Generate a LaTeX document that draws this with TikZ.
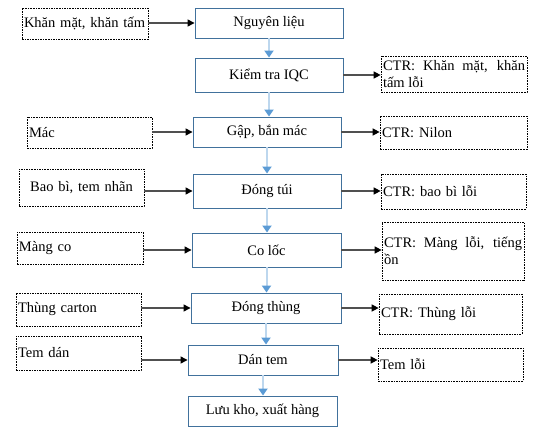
\documentclass[tikz,border=0pt]{standalone}
\usepackage{fontspec}
\setmainfont{Liberation Serif}
\usetikzlibrary{arrows.meta}

\definecolor{stepblue}{RGB}{65,113,156}
\definecolor{flowblue}{RGB}{91,155,213}
\definecolor{flowlight}{RGB}{189,215,238}
\definecolor{sidegray}{RGB}{80,80,80}

\tikzset{
  every node/.style={font=\fontsize{14.5}{17}\selectfont},
  stepbox/.style={draw=stepblue, line width=0.9pt, minimum width=148, minimum height=30, inner sep=0pt},
  sidebox/.style={draw, line width=0.7pt, dash pattern=on 1.6pt off 1pt, inner sep=2pt, align=left},
  flowarrow/.style={draw=flowlight, line width=2pt, -{Triangle[length=7pt, width=9pt, color=flowblue]}},
  sidearrow/.style={draw=sidegray, line width=1.3pt, -{Triangle[length=7pt, width=7pt, color=black]}}
}

\begin{document}
\begin{tikzpicture}[x=1pt,y=-1pt]
  \useasboundingbox (0,0) rectangle (536,428);

  % Process steps
  \node[stepbox] (nl) at (269,23) {Nguyên liệu};
  \node[stepbox, minimum height=34] (iqc) at (269,75) {Kiểm tra IQC};
  \node[stepbox] (gap) at (267,132) {Gập, bắn mác};
  \node[stepbox, minimum height=34] (tui) at (267,191) {Đóng túi};
  \node[stepbox, minimum width=149, minimum height=34] (coloc) at (266.5,250) {Co lốc};
  \node[stepbox, minimum width=150] (thung) at (266,308) {Đóng thùng};
  \node[stepbox, minimum width=150] (dantem) at (263,360) {Dán tem};
  \node[stepbox, minimum width=149] (luukho) at (262.5,411) {Lưu kho, xuất hàng};

  % Inputs
  \node[sidebox, text width=122, minimum height=31] (khan) at (85,23.5) {Khăn mặt, khăn tấm};
  \node[sidebox, text width=121, minimum height=31] (mac) at (89.5,132.5) {Mác};
  \node[sidebox, text width=121, minimum height=37, align=center] (baobi) at (81.5,187.5) {Bao bì, tem nhãn};
  \node[sidebox, text width=122, minimum height=32] (mangco) at (80,248) {Màng co};
  \node[sidebox, text width=121, minimum height=33] (carton) at (78.5,309.5) {Thùng carton};
  \node[sidebox, text width=121, minimum height=34] (temdan) at (78.5,353) {Tem dán};

  % Outputs
  \node[sidebox, text width=142, minimum height=36, align=justify] (ctrkhan) at (454,74) {CTR: Khăn mặt, khăn tấm lỗi};
  \node[sidebox, text width=143, minimum height=33] (ctrnilon) at (453.5,132.5) {CTR: Nilon};
  \node[sidebox, text width=141, minimum height=35] (ctrbaobi) at (453.5,191.5) {CTR: bao bì lỗi};
  \node[sidebox, text width=138, minimum height=58, align=justify] (ctrmang) at (453,251) {CTR: Màng lỗi, tiếng ồn};
  \node[sidebox, text width=139, minimum height=40] (ctrthung) at (450.5,314) {CTR: Thùng lỗi};
  \node[sidebox, text width=141, minimum height=33] (temloi) at (450.5,364.5) {Tem lỗi};

  % Main flow
  \draw[flowarrow] (nl.south) -- (nl.south |- iqc.north);
  \draw[flowarrow] (iqc.south) -- (iqc.south |- gap.north);
  \draw[flowarrow] (gap.south) -- (gap.south |- tui.north);
  \draw[flowarrow] (tui.south) -- (tui.south |- coloc.north);
  \draw[flowarrow] (coloc.south) -- (coloc.south |- thung.north);
  \draw[flowarrow] (thung.south) -- (thung.south |- dantem.north);
  \draw[flowarrow] (dantem.south) -- (dantem.south |- luukho.north);

  % Inputs into steps
  \draw[sidearrow] (nl.west -| khan.east) -- (nl.west);
  \draw[sidearrow] (gap.west -| mac.east) -- (gap.west);
  \draw[sidearrow] (tui.west -| baobi.east) -- (tui.west);
  \draw[sidearrow] (coloc.west -| mangco.east) -- (coloc.west);
  \draw[sidearrow] (thung.west -| carton.east) -- (thung.west);
  \draw[sidearrow] (dantem.west -| temdan.east) -- (dantem.west);

  % Waste out of steps
  \draw[sidearrow] (iqc.east) -- (iqc.east -| ctrkhan.west);
  \draw[sidearrow] (gap.east) -- (gap.east -| ctrnilon.west);
  \draw[sidearrow] (tui.east) -- (tui.east -| ctrbaobi.west);
  \draw[sidearrow] (coloc.east) -- (coloc.east -| ctrmang.west);
  \draw[sidearrow] (thung.east) -- (thung.east -| ctrthung.west);
  \draw[sidearrow] (dantem.east) -- (dantem.east -| temloi.west);

\end{tikzpicture}
\end{document}
